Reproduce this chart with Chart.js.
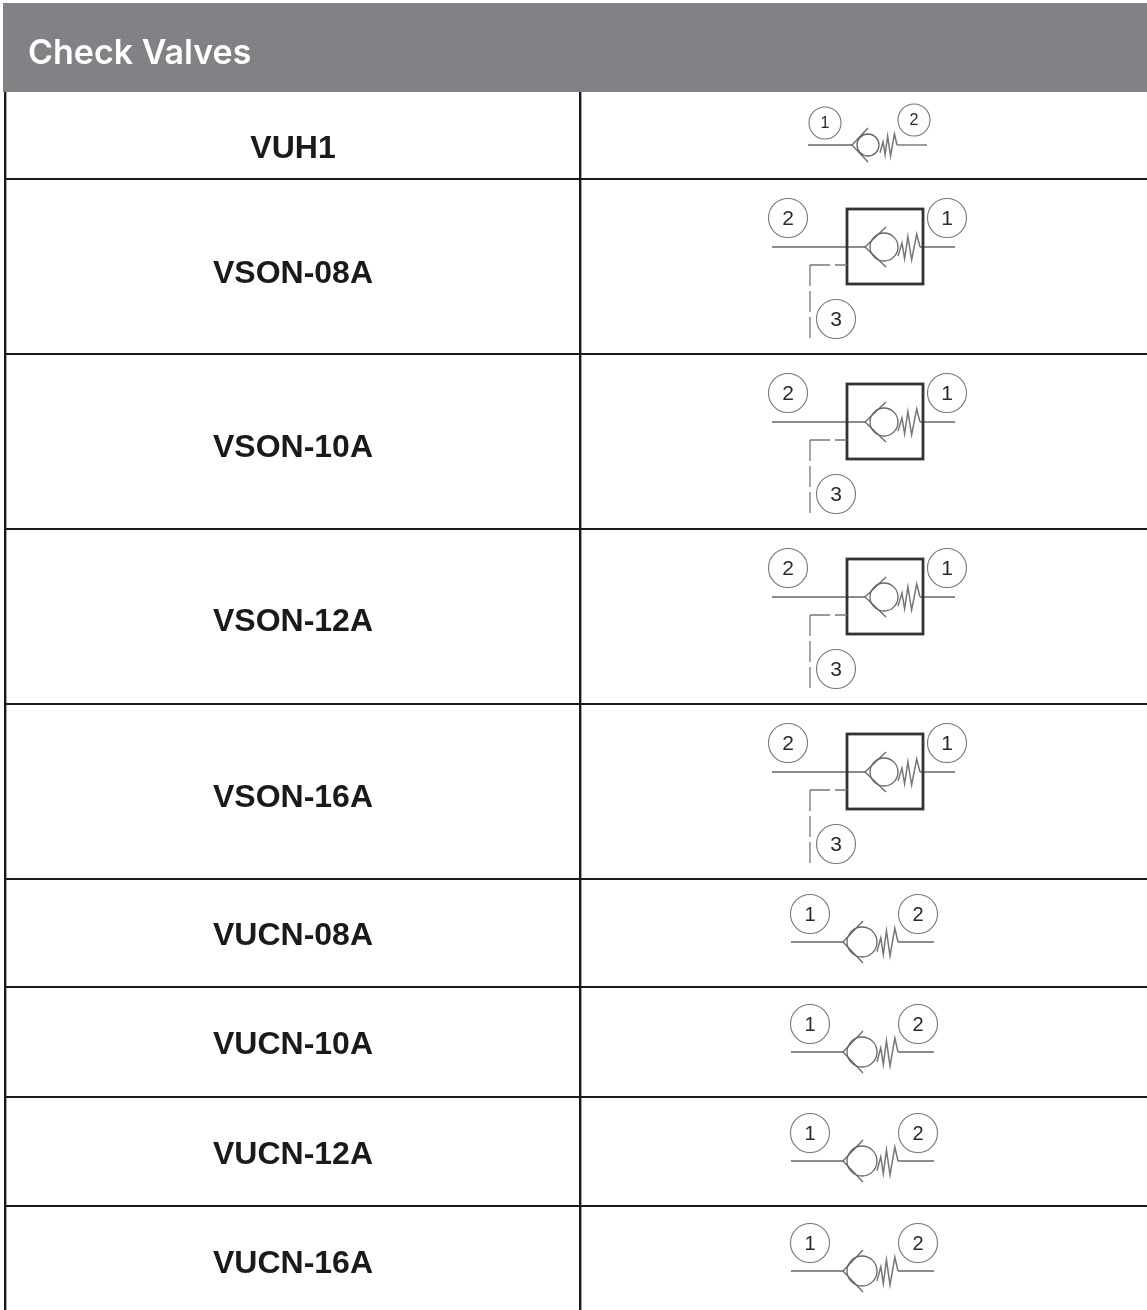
<!DOCTYPE html>
<html><head><meta charset="utf-8">
<style>html,body{margin:0;padding:0;background:#fff}canvas{display:block}</style>
<script src="https://cdn.jsdelivr.net/npm/chart.js@4"></script>
</head><body><div style="width:1147px;height:1310px"><canvas id="c" width="1147" height="1310"></canvas></div>
<script>
const title = "Check Valves";
const partNames = ["VUH1","VSON-08A","VSON-10A","VSON-12A","VSON-16A","VUCN-08A","VUCN-10A","VUCN-12A","VUCN-16A"];
const symbolKinds = ["small","boxed","boxed","boxed","boxed","medium","medium","medium","medium"];
const rowEdges = [92,179,354,529,704,879,987,1097,1206];
const columnEdges = [5,580];
const labelNudge = [14,8,7,6,7,3,3,4,3];
const symbolNudge = [-1,0,0,0,0,0,2,1,2];

const springShape = [[0,.7],[.18,-.3],[.3,.9],[.45,-.8],[.62,1],[.85,-1],[1,0]];
const kinds = {
  small:{rowLine:54,x0:808,x1:927,apex:852,arm:868,armH:17,cx:868,r:11,sp0:880,sp1:897,spH:11,font:16,
         tags:[["1",825,-22,16],["2",914,-25,16]]},
  medium:{rowLine:63,x0:791,x1:934,apex:843,arm:863,armH:21,cx:862,r:15,sp0:877,sp1:898,spH:14,font:20,
         tags:[["1",810,-28,19.5],["2",918,-28,19.5]]},
  boxed:{rowLine:68,x0:772,x1:955,apex:865,arm:886,armH:20,cx:884,r:14,sp0:898,sp1:920,spH:13,font:21,
         tags:[["2",788,-29,19.5],["1",947,-29,19.5],["3",836,72,19.5]],
         box:[847,923,-38,37],pilot:[847,810,18,93]}
};

const tablePlugin = {
  id:"tablePlugin",
  beforeDraw(chart){
    const ctx=chart.ctx; ctx.save();
    ctx.fillStyle="#fff"; ctx.fillRect(0,0,chart.width,chart.height);
    ctx.fillStyle="#808285"; ctx.fillRect(3,3,chart.width-3,89);
    ctx.fillStyle="#fff"; ctx.font='600 34px Inter,"Liberation Sans",sans-serif';
    ctx.textAlign="left"; ctx.textBaseline="alphabetic";
    ctx.fillText(title,28,64);
    ctx.restore();
  },
  afterDraw(chart){
    const ctx=chart.ctx,X=v=>chart.scales.x.getPixelForValue(v),Y=v=>chart.scales.y.getPixelForValue(v);
    const bottoms=rowEdges.slice(1).concat([1316]);
    partNames.forEach((name,i)=>{
      const mid=(rowEdges[i]+bottoms[i])/2;
      ctx.save();
      ctx.fillStyle="#1a1a1a"; ctx.font='bold 32px "Liberation Sans",Arial,sans-serif';
      ctx.textAlign="center"; ctx.textBaseline="middle";
      ctx.fillText(name,X(293),Y(mid+labelNudge[i]));
      ctx.restore();
      drawSymbol(ctx,kinds[symbolKinds[i]],rowEdges[i]+symbolNudge[i],X,Y);
    });
  }
};
function drawSymbol(ctx,k,top,X,Y){
  const L=top+k.rowLine;
  ctx.save(); ctx.filter="blur(0.5px)";
  ctx.strokeStyle="#666"; ctx.lineWidth=1.3;
  const seg=(pts)=>{ctx.beginPath();pts.forEach((p,i)=>i?ctx.lineTo(X(p[0]),Y(p[1])):ctx.moveTo(X(p[0]),Y(p[1])));ctx.stroke();};
  seg([[k.x0,L],[k.apex,L]]);
  seg([[k.sp1,L],[k.x1,L]]);
  seg([[k.arm,L-k.armH],[k.apex,L],[k.arm,L+k.armH]]);
  ctx.beginPath();ctx.arc(X(k.cx),Y(L),k.r,0,Math.PI*2);ctx.stroke();
  ctx.lineWidth=1.5;ctx.strokeStyle="#777";
  seg(springShape.map(p=>[k.sp0+(k.sp1-k.sp0)*p[0],L+k.spH*p[1]]));
  if(k.box){
    ctx.strokeStyle="#333";ctx.lineWidth=2.8;
    ctx.strokeRect(X(k.box[0]),Y(L+k.box[2]),k.box[1]-k.box[0],k.box[3]-k.box[2]);
    ctx.strokeStyle="#777";ctx.lineWidth=1.3;
    ctx.setLineDash([21,5]);ctx.lineDashOffset=9;
    seg([[k.pilot[0],L+k.pilot[2]],[k.pilot[1],L+k.pilot[2]]]);
    ctx.lineDashOffset=0;
    seg([[k.pilot[1],L+k.pilot[2]],[k.pilot[1],L+k.pilot[3]]]);
    ctx.setLineDash([]);
  }
  k.tags.forEach(t=>{
    ctx.strokeStyle="#777";ctx.lineWidth=1.1;
    ctx.beginPath();ctx.arc(X(t[1]),Y(L+t[2]),t[3],0,Math.PI*2);ctx.stroke();
    ctx.fillStyle="#2a2a2a";ctx.font=k.font+'px "Liberation Sans",Arial,sans-serif';
    ctx.textAlign="center";ctx.textBaseline="middle";
    ctx.fillText(t[0],X(t[1]),Y(L+t[2]+1));
  });
  ctx.restore();
}
new Chart(document.getElementById("c"),{
  type:"scatter",
  data:{datasets:[{data:partNames.map((n,i)=>({x:293,y:rowEdges[i]})),pointRadius:0,showLine:false}]},
  options:{
    responsive:false,animation:false,
    layout:{padding:{left:5,top:92,right:0,bottom:0}},
    plugins:{legend:{display:false},tooltip:{enabled:false}},
    scales:{
      x:{type:"linear",min:5,max:1147,
         afterBuildTicks(s){s.ticks=columnEdges.map(v=>({value:v}));},
         grid:{color:"#1a1a1a",lineWidth:2.4,drawTicks:false},border:{display:false},ticks:{display:false}},
      y:{type:"linear",reverse:true,min:92,max:1310,
         afterBuildTicks(s){s.ticks=rowEdges.slice(1).map(v=>({value:v}));},
         grid:{color:"#1a1a1a",lineWidth:2,drawTicks:false},border:{display:false},ticks:{display:false}}
    }
  },
  plugins:[tablePlugin]
});
</script></body></html>
